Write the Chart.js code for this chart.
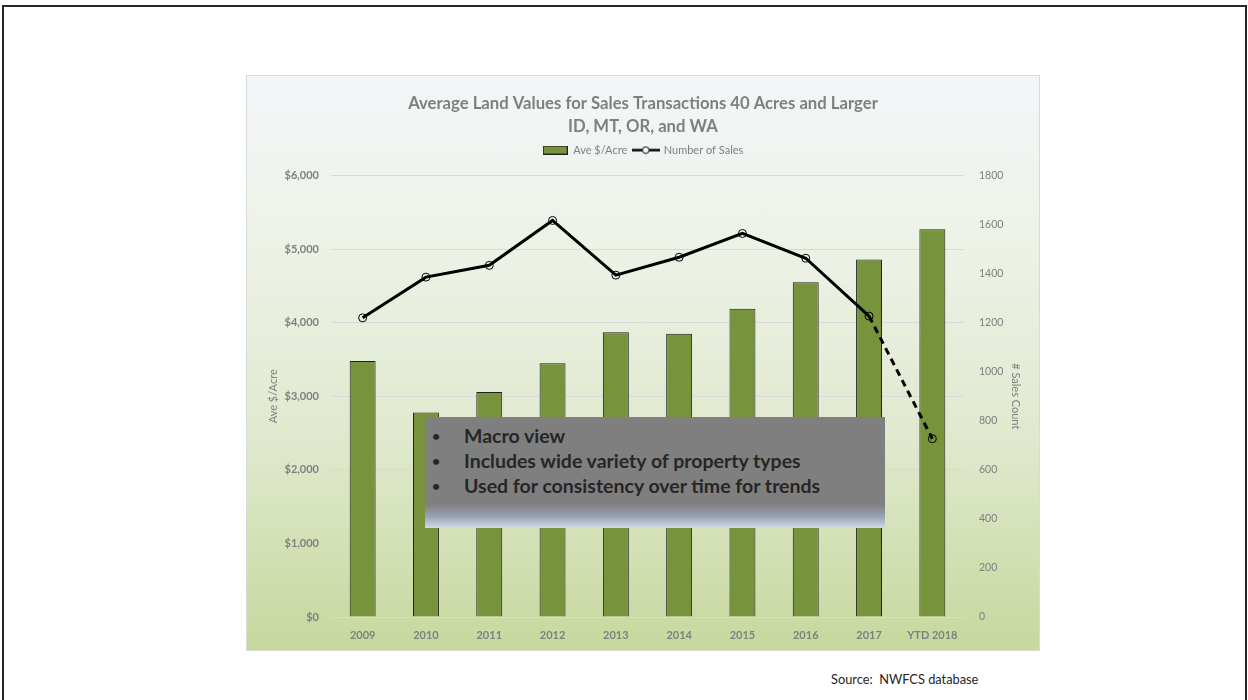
<!DOCTYPE html>
<html>
<head>
<meta charset="utf-8">
<script src="https://cdn.jsdelivr.net/npm/chart.js@4.4.1/dist/chart.umd.min.js"></script>
<style>
  html, body { margin: 0; padding: 0; background: #fff; }
  body { width: 1248px; height: 700px; position: relative; overflow: hidden; font-family: Lato, "Noto Sans", sans-serif; }
  .frame { position: absolute; left: 2px; top: 5px; width: 1241px; height: 720px; border: 2px solid #262626; }
  .chartBox {
    position: absolute; left: 246px; top: 75px; width: 792px; height: 574px;
    border: 1px solid #d9d9d9;
    background: linear-gradient(to bottom, #f3f6f9 0%, #edf2e7 30%, #dfe8cc 65%, #c6d89d 100%);
  }
  .chartBox canvas { position: absolute; left: 0; top: 0; }
  .note {
    position: absolute; left: 425px; top: 417px; width: 460px; height: 111px;
    background: linear-gradient(to bottom, #7f7f7f 0%, #7f7f7f 78%, #9aa3b3 90%, #d3dbea 100%);
    color: #262626; font-weight: bold; font-size: 19.5px;
  }
  .note ul { margin: 0; padding: 6px 0 0 0; list-style: none; }
  .note li { position: relative; padding-left: 39px; height: 25px; line-height: 25px; }
  .note li::before { content: "\2022"; position: absolute; left: 7px; font-size: 14px; }
  .source { position: absolute; left: 831px; top: 671px; font-size: 12.8px; color: #262626; }
</style>
</head>
<body>
<div class="frame"></div>
<div class="chartBox"><canvas id="chart" width="792" height="574"></canvas></div>
<div class="note">
  <ul>
    <li>Macro view</li>
    <li>Includes wide variety of property types</li>
    <li>Used for consistency over time for trends</li>
  </ul>
</div>
<div class="source">Source:&nbsp; NWFCS database</div>

<script>
const years = ['2009', '2010', '2011', '2012', '2013', '2014', '2015', '2016', '2017', 'YTD 2018'];
const avePerAcre = [3480, 2780, 3060, 3450, 3870, 3850, 4190, 4550, 4860, 5270];
const salesCount = [1220, 1386, 1434, 1617, 1394, 1467, 1564, 1463, 1227, 727];
const titleLines = ['Average Land Values for Sales Transactions 40 Acres and Larger', 'ID, MT, OR, and WA'];

const green = '#77933c';
const gray = '#7f7f7f';
const FONT = 'Lato, "Noto Sans", sans-serif';

// little legend icons
const barIcon = document.createElement('canvas');
barIcon.width = 25; barIcon.height = 9;
(function () {
  const c = barIcon.getContext('2d');
  c.fillStyle = green; c.fillRect(0.5, 0.5, 24, 8);
  c.strokeStyle = '#1f1f1f'; c.lineWidth = 1; c.strokeRect(0.5, 0.5, 24, 8);
})();
const lineIcon = document.createElement('canvas');
lineIcon.width = 28; lineIcon.height = 9;
(function () {
  const c = lineIcon.getContext('2d');
  c.strokeStyle = '#000'; c.lineWidth = 2.5;
  c.beginPath(); c.moveTo(0, 4.5); c.lineTo(28, 4.5); c.stroke();
  c.lineWidth = 1; c.fillStyle = '#fff';
  c.beginPath(); c.arc(14, 4.5, 3.3, 0, Math.PI * 2); c.fill(); c.stroke();
})();

// extra room between legend and plot area
const legendGap = {
  id: 'legendGap',
  beforeLayout(chart) {
    const lg = chart.legend;
    if (lg && !lg._gapPatched) {
      const fit = lg.fit;
      lg.fit = function () { fit.call(this); this.height += 10; };
      lg._gapPatched = true;
    }
  }
};

new Chart(document.getElementById('chart'), {
  data: {
    labels: years,
    datasets: [
      {
        type: 'bar',
        label: 'Ave $/Acre',
        data: avePerAcre,
        yAxisID: 'y',
        backgroundColor: green,
        borderColor: '#1f1f1f',
        borderWidth: 1,
        barPercentage: 0.41,
        categoryPercentage: 1,
        order: 2
      },
      {
        type: 'line',
        label: 'Number of Sales',
        data: salesCount,
        yAxisID: 'y1',
        borderColor: '#000',
        borderWidth: 3,
        pointRadius: 4,
        pointBackgroundColor: 'rgba(0,0,0,0)',
        pointBorderColor: '#000',
        pointBorderWidth: 1,
        tension: 0,
        segment: {
          borderDash: ctx => ctx.p1DataIndex === salesCount.length - 1 ? [7, 5] : undefined
        },
        order: 1
      }
    ]
  },
  plugins: [legendGap],
  options: {
    responsive: false,
    animation: false,
    layout: { padding: { top: 0, bottom: 3, left: 0, right: 0 } },
    plugins: {
      tooltip: { enabled: false },
      title: {
        display: true,
        text: titleLines,
        color: gray,
        font: { family: FONT, size: 16.7, weight: 'bold', lineHeight: 1.38 },
        padding: { top: 16.5, bottom: 0 }
      },
      legend: {
        position: 'top',
        labels: {
          color: gray,
          font: { family: FONT, size: 11 },
          usePointStyle: true,
          pointStyleWidth: 25,
          boxHeight: 9,
          padding: 6,
          generateLabels: chart => chart.data.datasets.map((ds, i) => ({
            text: ds.label,
            fontColor: gray,
            pointStyle: i === 0 ? barIcon : lineIcon,
            datasetIndex: i,
            hidden: false,
            lineWidth: 0
          }))
        }
      }
    },
    scales: {
      x: {
        grid: { display: false },
        border: { color: '#d9d9d9' },
        ticks: { color: gray, font: { family: FONT, size: 11, weight: 'bold' }, padding: 4 },
        afterFit: s => { s.height = 30; }
      },
      y: {
        position: 'left',
        min: 0, max: 6000,
        ticks: {
          stepSize: 1000,
          color: gray,
          padding: 12,
          font: { family: FONT, size: 11, weight: 'bold' },
          callback: v => '$' + v.toLocaleString('en-US')
        },
        grid: { color: '#d9d9d9', drawTicks: false },
        border: { display: false },
        title: { display: true, text: 'Ave $/Acre', color: gray, font: { family: FONT, size: 11 }, padding: { top: 20, bottom: 0 } },
        afterFit: s => { s.width = 84; }
      },
      y1: {
        position: 'right',
        min: 0, max: 1800,
        ticks: { stepSize: 200, color: gray, padding: 15, font: { family: FONT, size: 10.5 }, callback: v => String(v) },
        grid: { drawOnChartArea: false, drawTicks: false },
        border: { display: false },
        title: { display: true, text: '# Sales Count', color: gray, font: { family: FONT, size: 11 }, padding: { top: 17, bottom: 0 } },
        afterFit: s => { s.width = 75; }
      }
    }
  }
});
</script>
</body>
</html>
